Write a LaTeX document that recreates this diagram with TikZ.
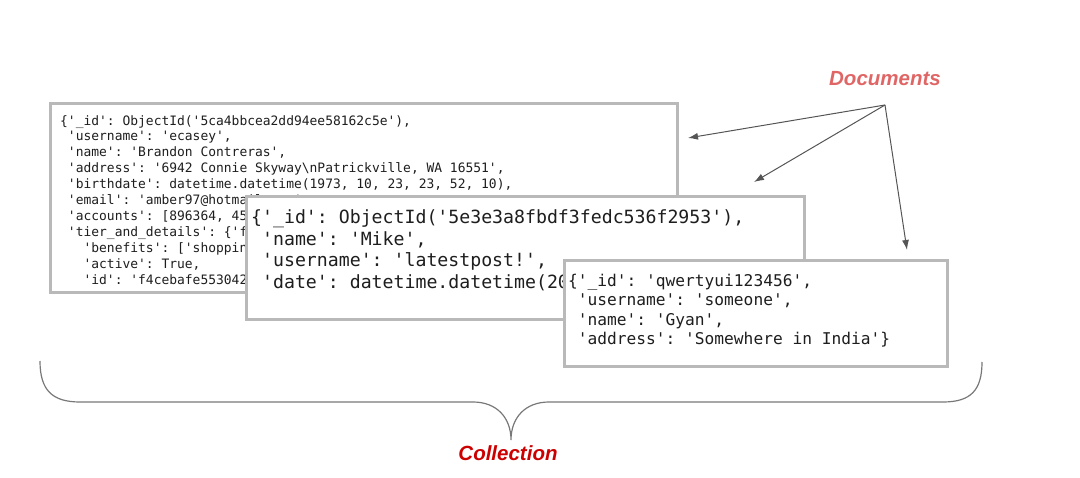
\documentclass[tikz,border=0pt]{standalone}
\usepackage{fontspec}
\setmonofont{DejaVu Sans Mono}
\newfontfamily\labelfont{Liberation Sans}
\usetikzlibrary{arrows.meta}
\definecolor{boxgrey}{RGB}{185,185,185}
\definecolor{docred}{RGB}{224,102,102}
\definecolor{colred}{RGB}{204,0,0}
\definecolor{arrowgrey}{RGB}{85,85,85}
\definecolor{bracegrey}{RGB}{120,120,120}
\definecolor{codeink}{RGB}{30,30,30}
\begin{document}
\begin{tikzpicture}[x=1pt,y=-1pt,
  docbox/.style={draw=boxgrey,line width=3pt,fill=white,rectangle,inner sep=0pt},
  codetext/.style={anchor=north west,inner sep=0pt,align=left,text=codeink},
  codeA/.style={codetext,font=\ttfamily\fontsize{12.95}{15.9}\selectfont},
  codeB/.style={codetext,font=\ttfamily\fontsize{18.2}{21.7}\selectfont},
  codeC/.style={codetext,font=\ttfamily\fontsize{16.2}{19.3}\selectfont},
  labeltext/.style={inner sep=0pt,font=\labelfont\bfseries\itshape\fontsize{20.5}{24}\selectfont},
  docarrow/.style={draw=arrowgrey,line width=1pt,-{Latex[length=10pt,width=7pt]}},
  bracestyle/.style={draw=bracegrey,line width=1.2pt}
]
\useasboundingbox (0,0) rectangle (1080,478);

% Document 1
\node[docbox,minimum width=627pt,minimum height=189pt] (box1) at (364,198) {};
\node[codeA] (text1) at (60,115) {\{'\_id': ObjectId('5ca4bbcea2dd94ee58162c5e'),\\
~'username': 'ecasey',\\
~'name': 'Brandon Contreras',\\
~'address': '6942 Connie Skyway\textbackslash nPatrickville, WA 16551',\\
~'birthdate': datetime.datetime(1973, 10, 23, 23, 52, 10),\\
~'email': 'amber97@hotmail.com',\\
~'accounts': [896364, 45\\
~'tier\_and\_details': \{'f\\
~~~'benefits': ['shoppin\\
~~~'active': True,\\
~~~'id': 'f4cebafe553042};

% Document 2
\node[docbox,minimum width=558pt,minimum height=123pt] (box2) at (525.5,258) {};
\node[codeB] (text2) at (251,209.5) {\{'\_id': ObjectId('5e3e3a8fbdf3fedc536f2953'),\\
~'name': 'Mike',\\
~'username': 'latestpost!',\\
~'date': datetime.datetime(20};

% Document 3
\node[docbox,minimum width=383pt,minimum height=106pt] (box3) at (756,313.5) {};
\node[codeC] (text3) at (568,274) {\{'\_id': 'qwertyui123456',\\
~'username': 'someone',\\
~'name': 'Gyan',\\
~'address': 'Somewhere in India'\}};

% Labels
\node[labeltext,text=docred] (documents) at (885,79) {Documents};
\node[labeltext,text=colred] (collection) at (508,453) {Collection};

% Arrows
\coordinate (src) at (885,105);
\coordinate (t1) at (688,138);
\coordinate (t2) at (754,182);
\coordinate (t3) at (907,250);
\draw[docarrow] (src) -- (t1);
\draw[docarrow] (src) -- (t2);
\draw[docarrow] (src) -- (t3);

% Brace
\coordinate (bl) at (40,361);
\coordinate (tip) at (511,440);
\coordinate (br) at (982,362);
\draw[bracestyle] (bl) .. controls (40,390) and (52,402) .. (80,402) -- (473,402)
  .. controls (497,402) and (511,418) .. (tip)
  .. controls (511,418) and (525,402) .. (549,402) -- (943,402)
  .. controls (971,402) and (982,390) .. (br);
\end{tikzpicture}
\end{document}
